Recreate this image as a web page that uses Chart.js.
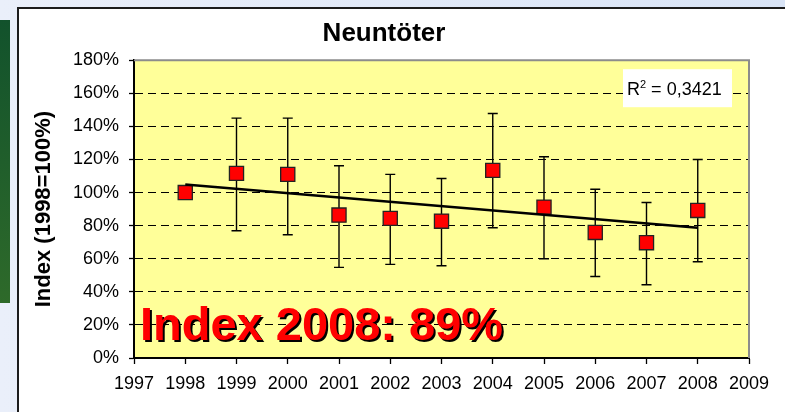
<!DOCTYPE html>
<html><head><meta charset="utf-8">
<script src="https://cdn.jsdelivr.net/npm/chart.js@4.4.0/dist/chart.umd.min.js"></script>
<style>
html,body{margin:0;padding:0;width:785px;height:412px;overflow:hidden;background:linear-gradient(90deg,#eaeffa,#d9e4f6);font-family:'Liberation Sans',Arial,sans-serif}
#green{position:absolute;left:0;top:20px;width:10px;height:283px;background:linear-gradient(180deg,#12522c,#2e6a2a)}
#box{position:absolute;left:17px;top:7px;width:900px;height:500px;border:2px solid #1c1c1c;background:#fff}
canvas{position:absolute;left:19px;top:9px}
</style></head><body>
<div id="green"></div><div id="box"></div>
<canvas id="c" width="768" height="403"></canvas>
<script>
const titleText = 'Neuntöter';
const yAxisTitle = 'Index (1998=100%)';
const years = [1998, 1999, 2000, 2001, 2002, 2003, 2004, 2005, 2006, 2007, 2008];
const indexValues = [100, 111.6, 111, 86.4, 84.4, 82.7, 113.4, 91.2, 75.9, 69.7, 89.2];
const upperValues = [null, 145, 145, 116.2, 111, 108.5, 147.8, 121.6, 102, 94, 120];
const lowerValues = [null, 76.9, 74.5, 54.8, 56.6, 55.8, 78.7, 60, 49.3, 44.3, 58.2];
const trendYears = [1998, 2008];
const trendValues = [104.9, 78.7];
const rSquaredLabel = '0,3421';
const bigLabel = 'Index 2008: 89%';

Chart.defaults.font.family = '"Liberation Sans", Arial, sans-serif';
Chart.defaults.color = '#000';

const plotDecor = {
  id: 'plotDecor',
  beforeDraw(chart) {
    const {ctx, chartArea: a} = chart;
    ctx.save();
    ctx.fillStyle = '#FFFF99';
    ctx.fillRect(a.left, a.top, a.right - a.left, a.bottom - a.top);
    ctx.restore();
  },
  beforeDatasetsDraw(chart) {
    const {ctx, chartArea: a, scales: {x, y}} = chart;
    ctx.save();
    ctx.strokeStyle = '#8c8c8c';
    ctx.lineWidth = 2;
    ctx.beginPath();
    ctx.moveTo(a.left, a.top);
    ctx.lineTo(a.right, a.top);
    ctx.lineTo(a.right, a.bottom);
    ctx.stroke();
    // error bars
    ctx.strokeStyle = '#000';
    ctx.lineWidth = 1.4;
    years.forEach((yr, i) => {
      if (upperValues[i] == null) return;
      const px = x.getPixelForValue(yr);
      const t = y.getPixelForValue(upperValues[i]);
      const b = y.getPixelForValue(lowerValues[i]);
      ctx.beginPath();
      ctx.moveTo(px, t); ctx.lineTo(px, b);
      ctx.moveTo(px - 5, t); ctx.lineTo(px + 5, t);
      ctx.moveTo(px - 5, b); ctx.lineTo(px + 5, b);
      ctx.stroke();
    });
    ctx.restore();
  },
  afterDatasetsDraw(chart) {
    const {ctx, chartArea: a} = chart;
    ctx.save();
    // R² box
    ctx.fillStyle = '#fff';
    ctx.fillRect(a.right - 126, a.top + 9, 109, 38);
    ctx.fillStyle = '#000';
    ctx.textBaseline = 'alphabetic';
    let tx = a.right - 122, ty = a.top + 35;
    ctx.font = '18px "Liberation Sans", Arial, sans-serif';
    ctx.fillText('R', tx, ty);
    tx += ctx.measureText('R').width;
    ctx.font = '11px "Liberation Sans", Arial, sans-serif';
    ctx.fillText('2', tx, ty - 7);
    tx += ctx.measureText('2').width;
    ctx.font = '18px "Liberation Sans", Arial, sans-serif';
    ctx.fillText(' = ' + rSquaredLabel, tx, ty);
    // big label
    ctx.font = 'bold 47px "Liberation Sans", Arial, sans-serif';
    const bx = a.left + 6, by = a.bottom - 18;
    ctx.fillStyle = '#000';
    ctx.fillText(bigLabel, bx + 2, by + 2);
    ctx.fillStyle = '#FF0000';
    ctx.fillText(bigLabel, bx, by);
    ctx.restore();
  }
};

new Chart(document.getElementById('c'), {
  type: 'scatter',
  data: {
    datasets: [
      {
        label: 'Trend',
        data: trendYears.map((yr, i) => ({x: yr, y: trendValues[i]})),
        showLine: true,
        borderColor: '#000',
        borderWidth: 2.5,
        pointRadius: 0,
        fill: false
      },
      {
        label: 'Index',
        data: years.map((yr, i) => ({x: yr, y: indexValues[i]})),
        pointStyle: 'rect',
        pointRadius: 10,
        pointHoverRadius: 10,
        backgroundColor: '#FF0000',
        borderColor: '#222',
        borderWidth: 1.3
      }
    ]
  },
  options: {
    responsive: false,
    animation: false,
    layout: {padding: {left: 0, right: 38, top: 0, bottom: 0}},
    plugins: {
      legend: {display: false},
      tooltip: {enabled: false},
      title: {display: true, text: titleText, color: '#000', font: {size: 26, weight: 'bold'}, padding: {top: 9, bottom: 11}}
    },
    scales: {
      x: {
        type: 'linear', min: 1997, max: 2009,
        ticks: {stepSize: 1, callback: v => String(v), color: '#000', font: {size: 18}, padding: 9, maxRotation: 0, autoSkip: false},
        grid: {drawOnChartArea: false, tickLength: 6, tickColor: '#000', tickWidth: 1.3},
        border: {display: true, color: '#000', width: 2},
        afterFit(s) { s.height = 54; }
      },
      y: {
        min: 0, max: 180,
        ticks: {stepSize: 20, callback: v => v + '%', color: '#000', font: {size: 18}, padding: 10},
        grid: {
          color: c => (c.tick && (c.tick.value === 0 || c.tick.value === 180)) ? 'rgba(0,0,0,0)' : '#000',
          lineWidth: 1, tickLength: 5, tickColor: '#000', tickWidth: 1.3
        },
        border: {display: true, color: '#000', width: 2, dash: [8, 5]},
        title: {display: true, text: yAxisTitle, color: '#000', font: {size: 22, weight: 'bold'}, padding: {top: 12, bottom: 0}},
        afterFit(s) { s.width = 115; }
      }
    }
  },
  plugins: [plotDecor]
});
</script>
</body></html>
